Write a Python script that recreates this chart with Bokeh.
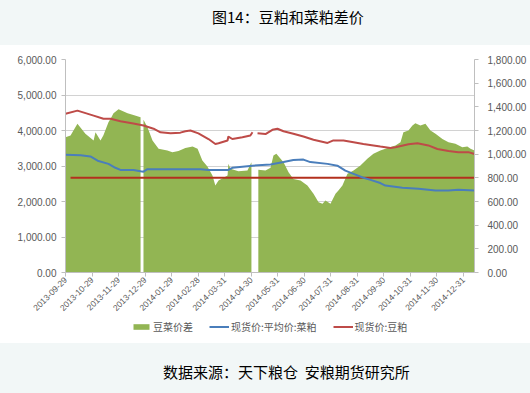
import math
from bokeh.plotting import figure
from bokeh.models import (Range1d, LinearAxis, FixedTicker, NumeralTickFormatter,
                          Legend, LegendItem, Div)
from bokeh.layouts import column
from bokeh.embed import file_html
from bokeh.resources import INLINE

NAN = float("nan")

# x positions are in "tick index" units (0 = 2013-09-29, 15 = 2014-12-31)
tick_labels = ["2013-09-29", "2013-10-29", "2013-11-29", "2013-12-29",
               "2014-01-29", "2014-02-28", "2014-03-31", "2014-04-30",
               "2014-05-31", "2014-06-30", "2014-07-31", "2014-08-31",
               "2014-09-30", "2014-10-31", "2014-11-30", "2014-12-31"]

# 豆菜价差 (right axis)
spread_x = [0.0, 0.19, 0.45, 0.57, 0.75, 1.06, 1.13, 1.32, 1.43, 1.62, 1.70, 1.81,
            2.00, 2.34, 2.56, 2.83, 2.89,
            2.94, 3.09, 3.28, 3.51, 3.84, 4.03, 4.26, 4.52, 4.79, 4.98, 5.16, 5.35,
            5.54, 5.65, 5.77, 5.96, 6.11, 6.14, 6.22, 6.52, 6.86, 7.01, 7.12,
            7.27, 7.54, 7.73, 7.84, 7.95, 8.22, 8.41, 8.59, 8.86, 9.12, 9.35, 9.54,
            9.69, 9.80, 9.99, 10.18, 10.29, 10.44, 10.63, 10.86, 11.12, 11.38, 11.61,
            11.87, 12.06, 12.44, 12.63, 12.74, 12.93, 13.08, 13.19, 13.38, 13.57,
            13.76, 13.95, 14.21, 14.44, 14.70, 14.96, 15.15, 15.27, 15.42]
spread_y = [1143, 1158, 1257, 1223, 1172, 1115, 1186, 1115, 1160, 1270, 1300, 1346,
            1380, 1346, 1330, 1313, NAN,
            1290, 1228, 1115, 1045, 1031, 1017, 1026, 1053, 1065, 1045, 946, 896,
            820, 735, 777, 800, 820, 918, 876, 856, 862, 932, NAN,
            868, 862, 885, 989, 1003, 932, 848, 791, 777, 735, 665, 594,
            580, 608, 580, 665, 693, 735, 834, 862, 904, 961, 1003,
            1031, 1045, 1073, 1101, 1186, 1200, 1242, 1262, 1242, 1257,
            1200, 1172, 1129, 1101, 1087, 1059, 1065, 1045, 1031]

# 现货价:平均价:菜粕 (left axis)
rapemeal_x = [0.0, 0.57, 0.94, 1.21, 1.62, 1.88, 2.07, 2.56, 2.83, 2.94, 3.09, 3.58,
              5.09, 5.39, 6.14, 6.29, 7.05, 7.73, 8.22, 8.59, 8.97, 9.23, 9.88,
              10.25, 10.55, 10.86, 11.23, 11.50, 11.87, 12.06, 12.70, 13.31, 13.95,
              14.44, 14.81, 15.42]
rapemeal_y = [3320, 3300, 3270, 3150, 3060, 2950, 2890, 2890, 2850, 2840, 2910, 2910,
              2910, 2890, 2890, 2950, 3010, 3040, 3110, 3170, 3180, 3110, 3060,
              3010, 2870, 2780, 2670, 2610, 2520, 2450, 2390, 2360, 2310,
              2310, 2330, 2310]

# 现货价:豆粕 (left axis)
soymeal_x = [0.0, 0.45, 1.06, 1.43, 1.70, 2.07, 2.56, 2.94, 3.32, 3.58, 3.96, 4.33,
             4.52, 4.71, 5.01, 5.39, 5.65, 5.77, 6.11, 6.14, 6.29, 6.67, 6.97, 7.05,
             7.14, 7.24, 7.54, 7.80, 7.99, 8.22, 8.59, 8.97, 9.35, 9.88, 10.10,
             10.48, 10.86, 11.23, 11.61, 11.87, 12.25, 12.44, 12.93, 13.27, 13.68,
             14.02, 14.44, 14.81, 15.19, 15.42]
soymeal_y = [4470, 4560, 4420, 4330, 4330, 4260, 4200, 4140, 4050, 3950, 3920, 3940,
             3980, 4000, 3920, 3760, 3620, 3640, 3720, 3830, 3760, 3810, 3860, 3950,
             NAN, 3920, 3900, 4020, 4050, 3980, 3910, 3830, 3740, 3650, 3720,
             3720, 3670, 3620, 3580, 3550, 3510, 3530, 3610, 3640, 3580,
             3480, 3420, 3390, 3390, 3340]

# reference level (right axis)
ref_x = [0.19, 15.42]
ref_y = [800, 800]

series_names = ["豆菜价差", "现货价:平均价:菜粕", "现货价:豆粕"]

GREEN = "#92b553"
BLUE = "#4a7ebb"
RED = "#be4b48"
DARKRED = "#b3301e"
TXT = "#595959"
AX = "#bfbfbf"

p = figure(width=530, height=272, output_backend="svg", toolbar_location=None,
           x_range=Range1d(0, 15.42), y_range=Range1d(0, 6000),
           min_border_left=65, min_border_right=56, min_border_top=14,
           min_border_bottom=45, background_fill_color="white",
           border_fill_color="white", outline_line_color=None)
p.extra_y_ranges = {"right": Range1d(0, 1800)}

# green area, split at gaps
segs, cur = [], []
for x, y in zip(spread_x, spread_y):
    if y is None or (isinstance(y, float) and math.isnan(y)):
        if cur:
            segs.append(cur)
        cur = []
    else:
        cur.append((x, y))
if cur:
    segs.append(cur)
for s in segs:
    p.varea(x=[a for a, _ in s], y1=0, y2=[b for _, b in s],
            y_range_name="right", fill_color=GREEN, fill_alpha=1.0)

p.line(ref_x, ref_y, y_range_name="right", line_color=DARKRED, line_width=2)
p.line(rapemeal_x, rapemeal_y, line_color=BLUE, line_width=2)
p.line(soymeal_x, soymeal_y, line_color=RED, line_width=2)

def style_axis(ax, size="10px"):
    ax.axis_line_color = AX
    ax.major_tick_line_color = AX
    ax.minor_tick_line_color = None
    ax.major_tick_in = 0
    ax.major_tick_out = 4
    ax.major_label_text_font = "Liberation Sans"
    ax.major_label_text_font_size = size
    ax.major_label_text_color = TXT

yl = p.yaxis[0]
yl.ticker = FixedTicker(ticks=list(range(0, 6001, 1000)))
yl.formatter = NumeralTickFormatter(format="0,0.00")
style_axis(yl)
yl.major_label_standoff = 5

yr = LinearAxis(y_range_name="right", ticker=FixedTicker(ticks=list(range(0, 1801, 200))),
                formatter=NumeralTickFormatter(format="0,0.00"))
style_axis(yr)
yr.major_label_standoff = 9
p.add_layout(yr, "right")

xa = p.xaxis[0]
xa.ticker = FixedTicker(ticks=list(range(len(tick_labels))))
xa.major_label_overrides = {i: lab for i, lab in enumerate(tick_labels)}
xa.major_label_orientation = math.pi / 4
style_axis(xa, "8.5px")
xa.major_label_standoff = 2

p.xgrid.visible = False
p.ygrid.grid_line_color = "#d2d2d2"
p.ygrid.ticker = yl.ticker

# legend strip (separate figure, legend swatches only)
lg = figure(width=530, height=26, output_backend="svg", toolbar_location=None,
            x_range=Range1d(0, 1), y_range=Range1d(0, 1),
            min_border_left=0, min_border_right=0, min_border_top=0, min_border_bottom=0,
            background_fill_color="white", border_fill_color="white",
            outline_line_color=None)
lg.axis.visible = False
lg.grid.visible = False
g_r = lg.varea(x=[NAN], y1=[NAN], y2=[NAN], fill_color=GREEN)
b_r = lg.line(x=[NAN], y=[NAN], line_color=BLUE, line_width=2)
r_r = lg.line(x=[NAN], y=[NAN], line_color=RED, line_width=2)
legend = Legend(items=[LegendItem(label=series_names[0], renderers=[g_r]),
                       LegendItem(label=series_names[1], renderers=[b_r]),
                       LegendItem(label=series_names[2], renderers=[r_r])],
                orientation="horizontal", location=(66, 9),
                border_line_color=None, background_fill_alpha=0,
                padding=0, margin=0, spacing=16, label_standoff=2,
                glyph_width=20, glyph_height=7, label_height=12,
                label_text_font="Noto Sans CJK SC", label_text_font_size="10px",
                label_text_color=TXT)
lg.add_layout(legend, "center")

title_div = Div(
    text='<div style="position:relative;width:530px;height:45px;background:#f2f7f7;">'
         '<span style="position:absolute;left:212px;top:6px;font-family:\'Noto Sans CJK SC\';'
         'font-size:15px;color:#000;white-space:nowrap;">图14：豆粕和菜粕差价</span></div>',
    width=530, height=45, margin=0)
foot_div = Div(
    text='<div style="position:relative;width:530px;height:50px;background:#f2f7f7;">'
         '<span style="position:absolute;left:163px;top:18px;font-family:\'Noto Sans CJK SC\';'
         'font-size:15px;color:#000;white-space:nowrap;">数据来源：天下粮仓&nbsp;&nbsp;安粮期货研究所</span></div>',
    width=530, height=50, margin=0)

layout = column(title_div, p, lg, foot_div, spacing=0, margin=0)
open("out.html", "w").write(file_html(layout, INLINE))
